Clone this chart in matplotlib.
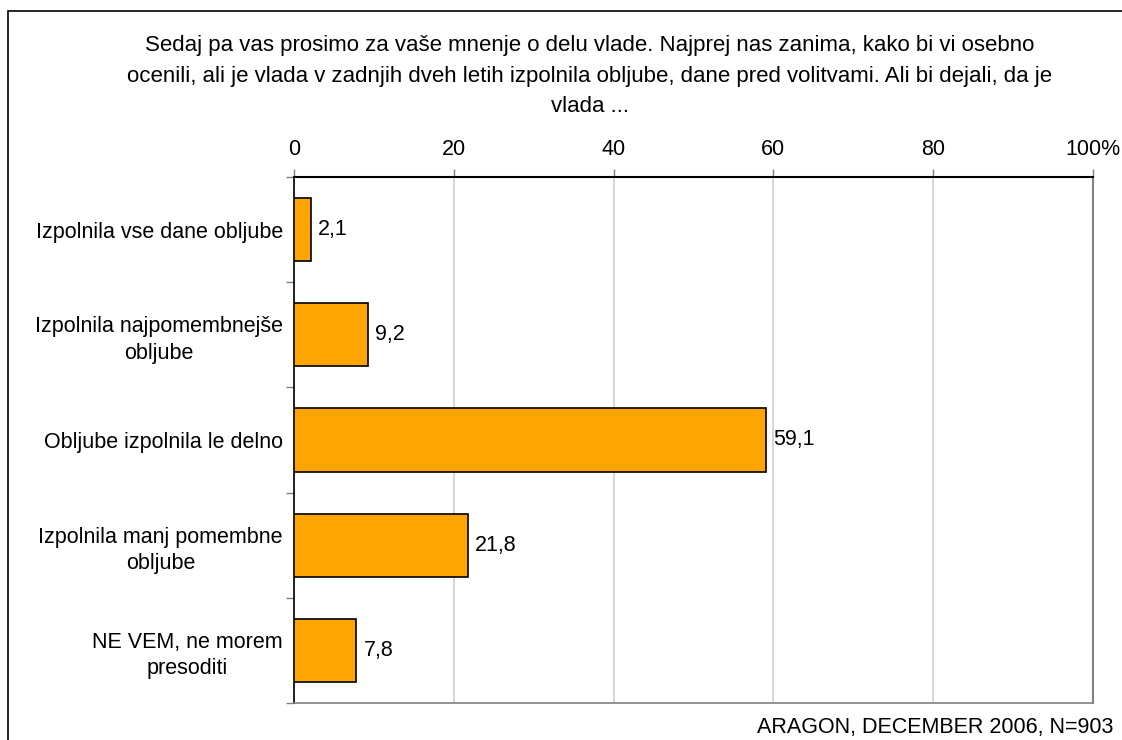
import matplotlib.pyplot as plt
from matplotlib.patches import Rectangle

categories = [
    "Izpolnila vse dane obljube",
    "Izpolnila najpomembnejše\nobljube",
    "Obljube izpolnila le delno",
    "Izpolnila manj pomembne\nobljube",
    "NE VEM, ne morem\npresoditi",
]
values = [2.1, 9.2, 59.1, 21.8, 7.8]
xticks = [0, 20, 40, 60, 80, 100]
xtick_labels = ["0", "20", "40", "60", "80", "100%"]

title = ("Sedaj pa vas prosimo za vaše mnenje o delu vlade. Najprej nas zanima, kako bi vi osebno\n"
         "ocenili, ali je vlada v zadnjih dveh letih izpolnila obljube, dane pred volitvami. Ali bi dejali, da je\n"
         "vlada ...")
footer = "ARAGON, DECEMBER 2006, N=903"

plt.rcParams['font.family'] = ['Liberation Sans', 'DejaVu Sans']
plt.rcParams['font.size'] = 15.5

fig = plt.figure(figsize=(11.22, 7.40), dpi=100)
W, H = 1122, 740
ax = fig.add_axes([294 / W, 1 - 703 / H, (1093 - 294) / W, (703 - 177) / H])

# figure border
fig.patches.append(Rectangle((8 / W, -0.01), 1.0, 1 - 11 / H + 0.01, transform=fig.transFigure,
                             fill=False, edgecolor='black', linewidth=1.2))

y = list(range(len(categories)))
ax.barh(y, values, height=0.6, color='#FFA500', edgecolor='black', linewidth=1.2, zorder=3)
for yi, v in zip(y, values):
    ax.text(v + 0.9, yi, f"{v:.1f}".replace('.', ','), va='center', ha='left')

ax.set_xlim(0, 100)
ax.set_ylim(len(categories) - 0.5, -0.5)
ax.xaxis.tick_top()
ax.set_xticks(xticks)
ax.set_xticklabels(xtick_labels)
ax.tick_params(axis='x', length=6, width=1, color='gray', pad=6)
ax.xaxis.grid(True, color='#d0d0d0', linewidth=1.2, zorder=0)

ax.set_yticks([i - 0.5 for i in range(len(categories) + 1)])
ax.set_yticklabels([])
ax.set_yticks(y, minor=True)
ax.set_yticklabels(categories, minor=True, ha='right', multialignment='center', linespacing=1.35)
ax.tick_params(axis='y', which='major', length=6, width=1, color='gray')
ax.tick_params(axis='y', which='minor', length=0, pad=8)

ax.spines['top'].set_color('black')
ax.spines['top'].set_linewidth(1.5)
ax.spines['left'].set_color('black')
ax.spines['left'].set_linewidth(1.2)
ax.spines['right'].set_color('gray')
ax.spines['right'].set_linewidth(1.5)
ax.spines['bottom'].set_color('gray')
ax.spines['bottom'].set_linewidth(1.2)

fig.text(590 / W, 1 - 35 / H, title, ha='center', va='top', linespacing=1.6, fontsize=16)
fig.text(1113 / W, 1 - 727 / H, footer, ha='right', va='center')

fig.savefig("out.png", dpi=100)
